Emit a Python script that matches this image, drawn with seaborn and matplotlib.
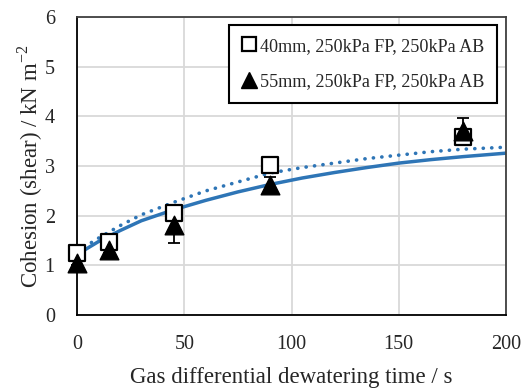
import matplotlib
matplotlib.use("Agg")
import matplotlib.pyplot as plt
from matplotlib.lines import Line2D
import seaborn as sns
import pandas as pd

# Measured data
time_s = [0, 15, 45, 90, 180]
c40 = [1.25, 1.48, 2.05, 3.03, 3.58]
c40_err = [0.05, 0.06, 0.08, 0.10, 0.12]
c55 = [1.05, 1.32, 1.82, 2.62, 3.70]
c55_err = [0.05, 0.07, 0.37, 0.16, 0.27]

# Trend curves
fit_x = [0, 10, 20, 30, 45, 60, 75, 90, 105, 120, 135, 150, 165, 180, 200]
fit40 = [1.28, 1.55, 1.80, 2.02, 2.27, 2.50, 2.68, 2.86, 2.97, 3.06, 3.15, 3.22, 3.29, 3.34, 3.38]
fit55 = [1.22, 1.48, 1.70, 1.90, 2.12, 2.31, 2.48, 2.63, 2.76, 2.87, 2.97, 3.06, 3.13, 3.19, 3.26]

labels = ["40mm, 250kPa FP, 250kPa AB", "55mm, 250kPa FP, 250kPa AB"]
x_ticks = [0, 50, 100, 150, 200]
y_ticks = [0, 1, 2, 3, 4, 5, 6]

sns.set_theme(style="white")
plt.rcParams["font.family"] = ["Liberation Serif", "DejaVu Serif"]
plt.rcParams["mathtext.fontset"] = "custom"
plt.rcParams["mathtext.rm"] = "Liberation Serif"

blue = "#2E75B6"

fig = plt.figure(figsize=(5.31, 3.91), dpi=100)
ax = fig.add_axes([0.145, 0.194, 0.808, 0.7625])

fit_df = pd.DataFrame({"x": fit_x, "y40": fit40, "y55": fit55})
sns.lineplot(data=fit_df, x="x", y="y55", ax=ax, color=blue, lw=2.5, zorder=2)
sns.lineplot(data=fit_df, x="x", y="y40", ax=ax, color=blue, lw=2.6, zorder=2)
dotted = ax.lines[-1]
dotted.set_linestyle((0, (0.05, 2.3)))
dotted.set_dash_capstyle("round")

for yv, ev in [(c40, c40_err), (c55, c55_err)]:
    eb = ax.errorbar(time_s, yv, yerr=ev, fmt="none", ecolor="black",
                     elinewidth=1.3, capsize=4.5, capthick=1.3, zorder=3)
    for a in eb.get_children():
        a.set_clip_on(False)

df = pd.DataFrame({"t": time_s, "c40": c40, "c55": c55})
sns.scatterplot(data=df, x="t", y="c40", ax=ax, marker="s", s=140,
                facecolor="white", edgecolor="black", linewidth=1.6, zorder=4,
                clip_on=False)
sns.scatterplot(data=df, x="t", y="c55", ax=ax, marker="^", s=180,
                color="black", edgecolor="black", linewidth=1, zorder=5,
                clip_on=False)

ax.set_xlim(0, 200)
ax.set_ylim(0, 6)
ax.set_xticks(x_ticks)
ax.set_yticks(y_ticks)
ax.grid(True, color="#D9D9D9", lw=1.3)
ax.set_axisbelow(True)
for side in ["left", "bottom"]:
    ax.spines[side].set_color("black")
    ax.spines[side].set_linewidth(1.3)
for side in ["top", "right"]:
    ax.spines[side].set_color("#404040")
    ax.spines[side].set_linewidth(1.3)
ax.tick_params(axis="both", which="major", direction="out", length=6,
               width=1.3, color="black", labelsize=14.5)
ax.tick_params(axis="y", pad=10)
ax.tick_params(axis="x", pad=8)

ax.set_xlabel("Gas differential dewatering time / s", fontsize=16.5, labelpad=10)
ax.set_ylabel("Cohesion (shear) / kN m$^{-2}$", fontsize=16.5, labelpad=0)

handles = [
    Line2D([], [], marker="s", ls="none", markersize=10, markerfacecolor="white",
           markeredgecolor="black", markeredgewidth=1.6),
    Line2D([], [], marker="^", ls="none", markersize=11, color="black"),
]
leg = ax.legend(handles, labels, loc="upper right", bbox_to_anchor=(0.9785, 0.973),
                fontsize=13.1, frameon=True, fancybox=False, edgecolor="black",
                framealpha=1, handletextpad=0.15, handlelength=0.85,
                labelspacing=1.0, borderpad=0.7, borderaxespad=0)
leg.get_frame().set_linewidth(1.5)

fig.savefig("out.png", dpi=100)
